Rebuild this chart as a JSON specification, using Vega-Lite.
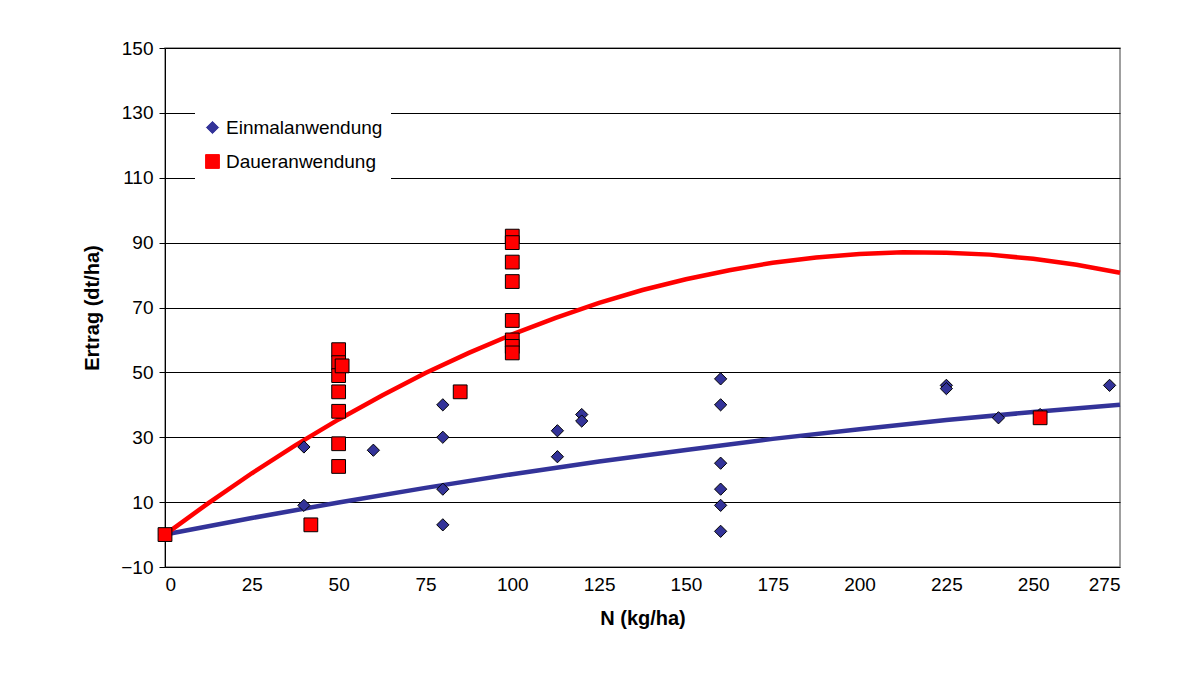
{
"$schema":"https://vega.github.io/schema/vega-lite/v6.json",
"width":955,"height":519,
"autosize":"none",
"padding":{"left":165,"top":48,"right":61,"bottom":130},
"background":"white",
"config":{"font":"Liberation Sans","view":{"stroke":"#808080","strokeWidth":1.5}},
"datasets":{
"pts":[
{"n":0,"y":0,"s":"Einmalanwendung"},{"n":40,"y":27,"s":"Einmalanwendung"},{"n":40,"y":9,"s":"Einmalanwendung"},{"n":60,"y":26,"s":"Einmalanwendung"},{"n":80,"y":40,"s":"Einmalanwendung"},{"n":80,"y":30,"s":"Einmalanwendung"},{"n":80,"y":14,"s":"Einmalanwendung"},{"n":80,"y":3,"s":"Einmalanwendung"},{"n":113,"y":32,"s":"Einmalanwendung"},{"n":113,"y":24,"s":"Einmalanwendung"},{"n":120,"y":37,"s":"Einmalanwendung"},{"n":120,"y":35,"s":"Einmalanwendung"},{"n":160,"y":48,"s":"Einmalanwendung"},{"n":160,"y":40,"s":"Einmalanwendung"},{"n":160,"y":22,"s":"Einmalanwendung"},{"n":160,"y":14,"s":"Einmalanwendung"},{"n":160,"y":9,"s":"Einmalanwendung"},{"n":160,"y":1,"s":"Einmalanwendung"},{"n":225,"y":46,"s":"Einmalanwendung"},{"n":225,"y":45,"s":"Einmalanwendung"},{"n":240,"y":36,"s":"Einmalanwendung"},{"n":252,"y":37,"s":"Einmalanwendung"},{"n":272,"y":46,"s":"Einmalanwendung"},
{"n":0,"y":0,"s":"Daueranwendung"},{"n":42,"y":3,"s":"Daueranwendung"},{"n":50,"y":57,"s":"Daueranwendung"},{"n":50,"y":53,"s":"Daueranwendung"},{"n":50,"y":49,"s":"Daueranwendung"},{"n":50,"y":44,"s":"Daueranwendung"},{"n":50,"y":38,"s":"Daueranwendung"},{"n":50,"y":28,"s":"Daueranwendung"},{"n":50,"y":21,"s":"Daueranwendung"},{"n":51,"y":52,"s":"Daueranwendung"},{"n":85,"y":44,"s":"Daueranwendung"},{"n":100,"y":92,"s":"Daueranwendung"},{"n":100,"y":90,"s":"Daueranwendung"},{"n":100,"y":84,"s":"Daueranwendung"},{"n":100,"y":78,"s":"Daueranwendung"},{"n":100,"y":66,"s":"Daueranwendung"},{"n":100,"y":60,"s":"Daueranwendung"},{"n":100,"y":58,"s":"Daueranwendung"},{"n":100,"y":56,"s":"Daueranwendung"},{"n":252,"y":36,"s":"Daueranwendung"}
],
"fit":[
{"n":0,"y":0,"s":"Einmalanwendung"},{"n":25,"y":5.1,"s":"Einmalanwendung"},{"n":50,"y":9.9,"s":"Einmalanwendung"},{"n":75,"y":14.4,"s":"Einmalanwendung"},{"n":100,"y":18.6,"s":"Einmalanwendung"},{"n":125,"y":22.5,"s":"Einmalanwendung"},{"n":150,"y":26.1,"s":"Einmalanwendung"},{"n":175,"y":29.5,"s":"Einmalanwendung"},{"n":200,"y":32.5,"s":"Einmalanwendung"},{"n":225,"y":35.3,"s":"Einmalanwendung"},{"n":250,"y":37.8,"s":"Einmalanwendung"},{"n":275,"y":40,"s":"Einmalanwendung"},
{"n":0,"y":0,"s":"Daueranwendung"},{"n":12.5,"y":9.7,"s":"Daueranwendung"},{"n":25,"y":18.9,"s":"Daueranwendung"},{"n":37.5,"y":27.5,"s":"Daueranwendung"},{"n":50,"y":35.5,"s":"Daueranwendung"},{"n":62.5,"y":42.9,"s":"Daueranwendung"},{"n":75,"y":49.8,"s":"Daueranwendung"},{"n":87.5,"y":56.0,"s":"Daueranwendung"},{"n":100,"y":61.7,"s":"Daueranwendung"},{"n":112.5,"y":66.8,"s":"Daueranwendung"},{"n":125,"y":71.4,"s":"Daueranwendung"},{"n":137.5,"y":75.4,"s":"Daueranwendung"},{"n":150,"y":78.7,"s":"Daueranwendung"},{"n":162.5,"y":81.5,"s":"Daueranwendung"},{"n":175,"y":83.8,"s":"Daueranwendung"},{"n":187.5,"y":85.4,"s":"Daueranwendung"},{"n":200,"y":86.5,"s":"Daueranwendung"},{"n":212.5,"y":87.0,"s":"Daueranwendung"},{"n":225,"y":86.9,"s":"Daueranwendung"},{"n":237.5,"y":86.3,"s":"Daueranwendung"},{"n":250,"y":85.0,"s":"Daueranwendung"},{"n":262.5,"y":83.2,"s":"Daueranwendung"},{"n":275,"y":80.7,"s":"Daueranwendung"}
],
"zero":[{"y":0}]
},
"encoding":{
"x":{"field":"n","type":"quantitative","scale":{"domain":[0,275],"nice":false,"zero":false},
"axis":{"title":"N (kg/ha)","values":[0,25,50,75,100,125,150,175,200,225,250,275],"grid":false,"domain":false,"ticks":false,"labelFontSize":19,"labelPadding":8,"titleFontSize":20,"titleFontWeight":"bold","titlePadding":14,"labelColor":"black","titleColor":"black"}},
"y":{"field":"y","type":"quantitative","scale":{"domain":[-10,150],"nice":false,"zero":false},
"axis":{"title":"Ertrag (dt/ha)","values":[-10,10,30,50,70,90,110,130,150],"gridColor":"black","gridWidth":1,"domainColor":"black","tickColor":"black","tickSize":6,"labelFontSize":19,"labelPadding":6,"titleFontSize":20,"titleFontWeight":"bold","titlePadding":18,"labelColor":"black","titleColor":"black"}}
},
"layer":[
{"data":{"name":"zero"},"mark":{"type":"rule","color":"black"},"encoding":{"y":{"field":"y","type":"quantitative"}}},
{"data":{"name":"fit"},"mark":{"type":"line","strokeWidth":4.5},
"encoding":{"detail":{"field":"s"},"color":{"field":"s","type":"nominal","scale":{"domain":["Einmalanwendung","Daueranwendung"],"range":["#333399","#ff0000"]},
"legend":{"title":null,"orient":"none","legendX":30,"legendY":62,"labelFontSize":19,"labelColor":"black","fillColor":"white","padding":8,"rowPadding":14,"symbolStrokeColor":"black","symbolStrokeWidth":1,"symbolSize":150}}}},
{"data":{"name":"pts"},"mark":{"type":"point","filled":true,"stroke":"black","strokeWidth":1,"opacity":1},
"encoding":{
"color":{"field":"s","type":"nominal"},
"shape":{"field":"s","type":"nominal","scale":{"domain":["Einmalanwendung","Daueranwendung"],"range":["diamond","square"]}},
"size":{"field":"s","type":"nominal","scale":{"domain":["Einmalanwendung","Daueranwendung"],"range":[150,190]},"legend":null}}}
]
}
